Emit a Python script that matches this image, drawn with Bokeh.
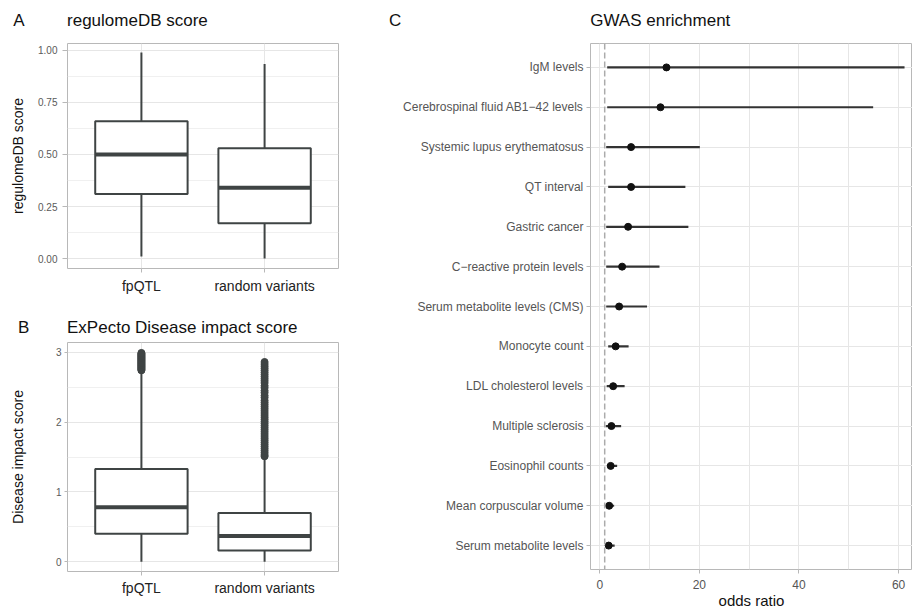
from bokeh.plotting import figure
from bokeh.layouts import row, column
from bokeh.models import (Range1d, FactorRange, FixedTicker, Span,
                          NumeralTickFormatter, ColumnDataSource)
from bokeh.transform import dodge
from bokeh.embed import file_html
from bokeh.resources import INLINE

# ---------------- data ----------------
groups = ["fpQTL", "random variants"]

# Panel A: regulomeDB score box stats
reg_low = [0.01, 0.00]
reg_q1 = [0.31, 0.17]
reg_med = [0.50, 0.34]
reg_q3 = [0.66, 0.53]
reg_high = [0.99, 0.935]

# Panel B: ExPecto disease impact score box stats
dis_low = [0.0, 0.0]
dis_q1 = [0.40, 0.16]
dis_med = [0.78, 0.37]
dis_q3 = [1.33, 0.70]
dis_high = [2.73, 1.50]
dis_out_fpqtl = [2.74, 2.75, 2.76, 2.77, 2.78, 2.79, 2.80, 2.81, 2.82, 2.83,
                 2.84, 2.85, 2.86, 2.87, 2.88, 2.89, 2.90, 2.91, 2.92, 2.93,
                 2.94, 2.95, 2.96, 2.97, 2.98, 2.99]
dis_out_random = [1.51, 1.53, 1.56, 1.59, 1.62, 1.65, 1.68, 1.71, 1.74, 1.77,
                  1.80, 1.83, 1.86, 1.89, 1.92, 1.95, 1.98, 2.01, 2.04, 2.07,
                  2.10, 2.13, 2.16, 2.19, 2.22, 2.25, 2.28, 2.31, 2.35, 2.38,
                  2.42, 2.45, 2.49, 2.52, 2.56, 2.59, 2.62, 2.65, 2.68, 2.71,
                  2.74, 2.77, 2.80, 2.83, 2.86]

# Panel C: GWAS enrichment (top to bottom)
traits = ["IgM levels", "Cerebrospinal fluid AB1\u221242 levels",
          "Systemic lupus erythematosus", "QT interval", "Gastric cancer",
          "C\u2212reactive protein levels", "Serum metabolite levels (CMS)",
          "Monocyte count", "LDL cholesterol levels", "Multiple sclerosis",
          "Eosinophil counts", "Mean corpuscular volume",
          "Serum metabolite levels"]
odds = [13.4, 12.2, 6.3, 6.3, 5.7, 4.5, 3.9, 3.2, 2.7, 2.35, 2.2, 1.9, 1.8]
ci_low = [1.5, 1.5, 1.3, 1.7, 1.3, 1.3, 1.3, 1.7, 1.4, 1.2, 1.5, 1.3, 1.3]
ci_high = [61.2, 54.9, 20.1, 17.2, 17.8, 12.0, 9.5, 5.8, 5.0, 4.3, 3.5, 2.9, 3.0]

panel_letters = ["A", "B", "C"]
panel_titles = ["regulomeDB score", "ExPecto Disease impact score", "GWAS enrichment"]

# ---------------- style ----------------
FONT = "Liberation Sans"
BOXC = "#3f4444"
GRID = "#e6e6e6"
MINOR = "#f0f0f0"
BORDER = "#b8b8b8"
TICKC = "#5a5a5a"
NB = "\u00a0"
SHIFT = 6   # whole layout is pulled up by this many pixels


def style(p):
    p.background_fill_color = "white"
    p.border_fill_color = "white"
    p.outline_line_color = BORDER
    p.outline_line_width = 1
    for ax in (p.xaxis, p.yaxis):
        ax.axis_line_color = None
        ax.major_tick_line_color = BORDER
        ax.major_tick_in = 0
        ax.minor_tick_line_color = None
        ax.major_label_text_font = FONT
        ax.axis_label_text_font = FONT
        ax.axis_label_text_font_style = "normal"
        ax.axis_label_text_color = "#111111"
    p.xgrid.grid_line_color = GRID
    p.ygrid.grid_line_color = GRID


def set_title(p, i, gap, offset, standoff):
    p.title.text = panel_letters[i] + NB * gap + panel_titles[i]
    p.title.align = "left"
    p.title.vertical_align = "bottom"
    p.title.offset = offset
    p.title.standoff = standoff
    p.title.text_font = FONT
    p.title.text_font_size = "17px"
    p.title.text_font_style = "normal"
    p.title.text_color = "#111111"


def draw_box(p, low, q1, med, q3, high):
    src = ColumnDataSource(dict(g=groups, low=low, q1=q1, med=med, q3=q3, high=high))
    p.segment(x0="g", x1="g", y0="low", y1="q1", source=src, line_color=BOXC, line_width=2)
    p.segment(x0="g", x1="g", y0="q3", y1="high", source=src, line_color=BOXC, line_width=2)
    p.vbar(x="g", bottom="q1", top="q3", width=0.75, source=src, fill_color="white",
           line_color=BOXC, line_width=2)
    p.segment(x0=dodge("g", -0.375, range=p.x_range), x1=dodge("g", 0.375, range=p.x_range),
              y0="med", y1="med", source=src, line_color=BOXC, line_width=4)


# ---------------- Panel A ----------------
pA = figure(width=380, height=300 + SHIFT, x_range=FactorRange(factors=groups, range_padding=0.1),
            y_range=Range1d(-0.048, 1.0335), output_backend="svg", toolbar_location=None,
            min_border_left=67, min_border_right=42, min_border_top=42 + SHIFT,
            min_border_bottom=32)
style(pA)
draw_box(pA, reg_low, reg_q1, reg_med, reg_q3, reg_high)
pA.yaxis.ticker = FixedTicker(ticks=[0, 0.25, 0.5, 0.75, 1.0],
                              minor_ticks=[0.125, 0.375, 0.625, 0.875])
pA.yaxis.formatter = NumeralTickFormatter(format="0.00")
pA.ygrid.minor_grid_line_color = MINOR
pA.yaxis.major_tick_out = 5
pA.yaxis.major_label_standoff = 5
pA.yaxis.major_label_text_font_size = "10px"
pA.yaxis.major_label_text_color = TICKC
pA.yaxis.axis_label = "regulomeDB score"
pA.yaxis.axis_label_text_font_size = "14px"
pA.yaxis.axis_label_standoff = 9
pA.xaxis.major_tick_out = 4
pA.xaxis.major_label_standoff = 5
pA.xaxis.major_label_text_font_size = "14px"
pA.xaxis.major_label_text_color = "#222222"
set_title(pA, 0, 9, -54.3, 28)

# ---------------- Panel B ----------------
pB = figure(width=380, height=311, x_range=FactorRange(factors=groups, range_padding=0.1),
            y_range=Range1d(-0.139, 3.139), output_backend="svg", toolbar_location=None,
            min_border_left=62, min_border_right=42, min_border_top=42, min_border_bottom=40)
style(pB)
draw_box(pB, dis_low, dis_q1, dis_med, dis_q3, dis_high)
pB.scatter(x=[groups[0]] * len(dis_out_fpqtl), y=dis_out_fpqtl, size=7,
           fill_color=BOXC, line_color=BOXC)
pB.scatter(x=[groups[1]] * len(dis_out_random), y=dis_out_random, size=7,
           fill_color=BOXC, line_color=BOXC)
pB.yaxis.ticker = FixedTicker(ticks=[0, 1, 2, 3], minor_ticks=[0.5, 1.5, 2.5])
pB.ygrid.minor_grid_line_color = MINOR
pB.yaxis.major_tick_out = 3
pB.yaxis.major_label_standoff = 2
pB.yaxis.major_label_text_font_size = "10px"
pB.yaxis.major_label_text_color = TICKC
pB.yaxis.axis_label = "Disease impact score"
pB.yaxis.axis_label_text_font_size = "14px"
pB.yaxis.axis_label_standoff = 27
pB.xaxis.major_tick_out = 4
pB.xaxis.major_label_standoff = 4
pB.xaxis.major_label_text_font_size = "14px"
pB.xaxis.major_label_text_color = "#222222"
set_title(pB, 1, 8, -49.6, 12)

# ---------------- Panel C ----------------
factorsC = traits[::-1]
pC = figure(width=532, height=611 + SHIFT,
            y_range=FactorRange(factors=factorsC, range_padding=0.2 / 13),
            x_range=Range1d(-1.85, 62.8), output_backend="svg", toolbar_location=None,
            min_border_left=210, min_border_right=0, min_border_top=42 + SHIFT,
            min_border_bottom=42)
style(pC)
pC.xaxis.ticker = FixedTicker(ticks=[0, 20, 40, 60], minor_ticks=[10, 30, 50])
pC.xgrid.minor_grid_line_color = GRID
pC.add_layout(Span(location=1, dimension="height", line_color="#ababab",
                   line_width=1.5, line_dash="6 3"))
srcC = ColumnDataSource(dict(t=traits, o=odds, lo=ci_low, hi=ci_high))
pC.segment(x0="lo", x1="hi", y0="t", y1="t", source=srcC, line_color="#333333", line_width=2.2)
pC.scatter(x="o", y="t", source=srcC, size=7, fill_color="#111111", line_color="#111111")
pC.yaxis.major_tick_out = 4
pC.yaxis.major_label_standoff = 3
pC.yaxis.major_label_text_font_size = "12px"
pC.yaxis.major_label_text_color = "#555555"
pC.xaxis.major_tick_out = 4
pC.xaxis.major_label_standoff = 6
pC.xaxis.major_label_text_font_size = "12px"
pC.xaxis.major_label_text_color = "#555555"
pC.xaxis.axis_label = "odds ratio"
pC.xaxis.axis_label_text_font_size = "15px"
pC.xaxis.axis_label_standoff = 0
set_title(pC, 2, 40, -201.5, 28)

layout = row(column(pA, pB), pC, margin=(-SHIFT, 0, 0, 0))
open("out.html", "w").write(file_html(layout, INLINE))
